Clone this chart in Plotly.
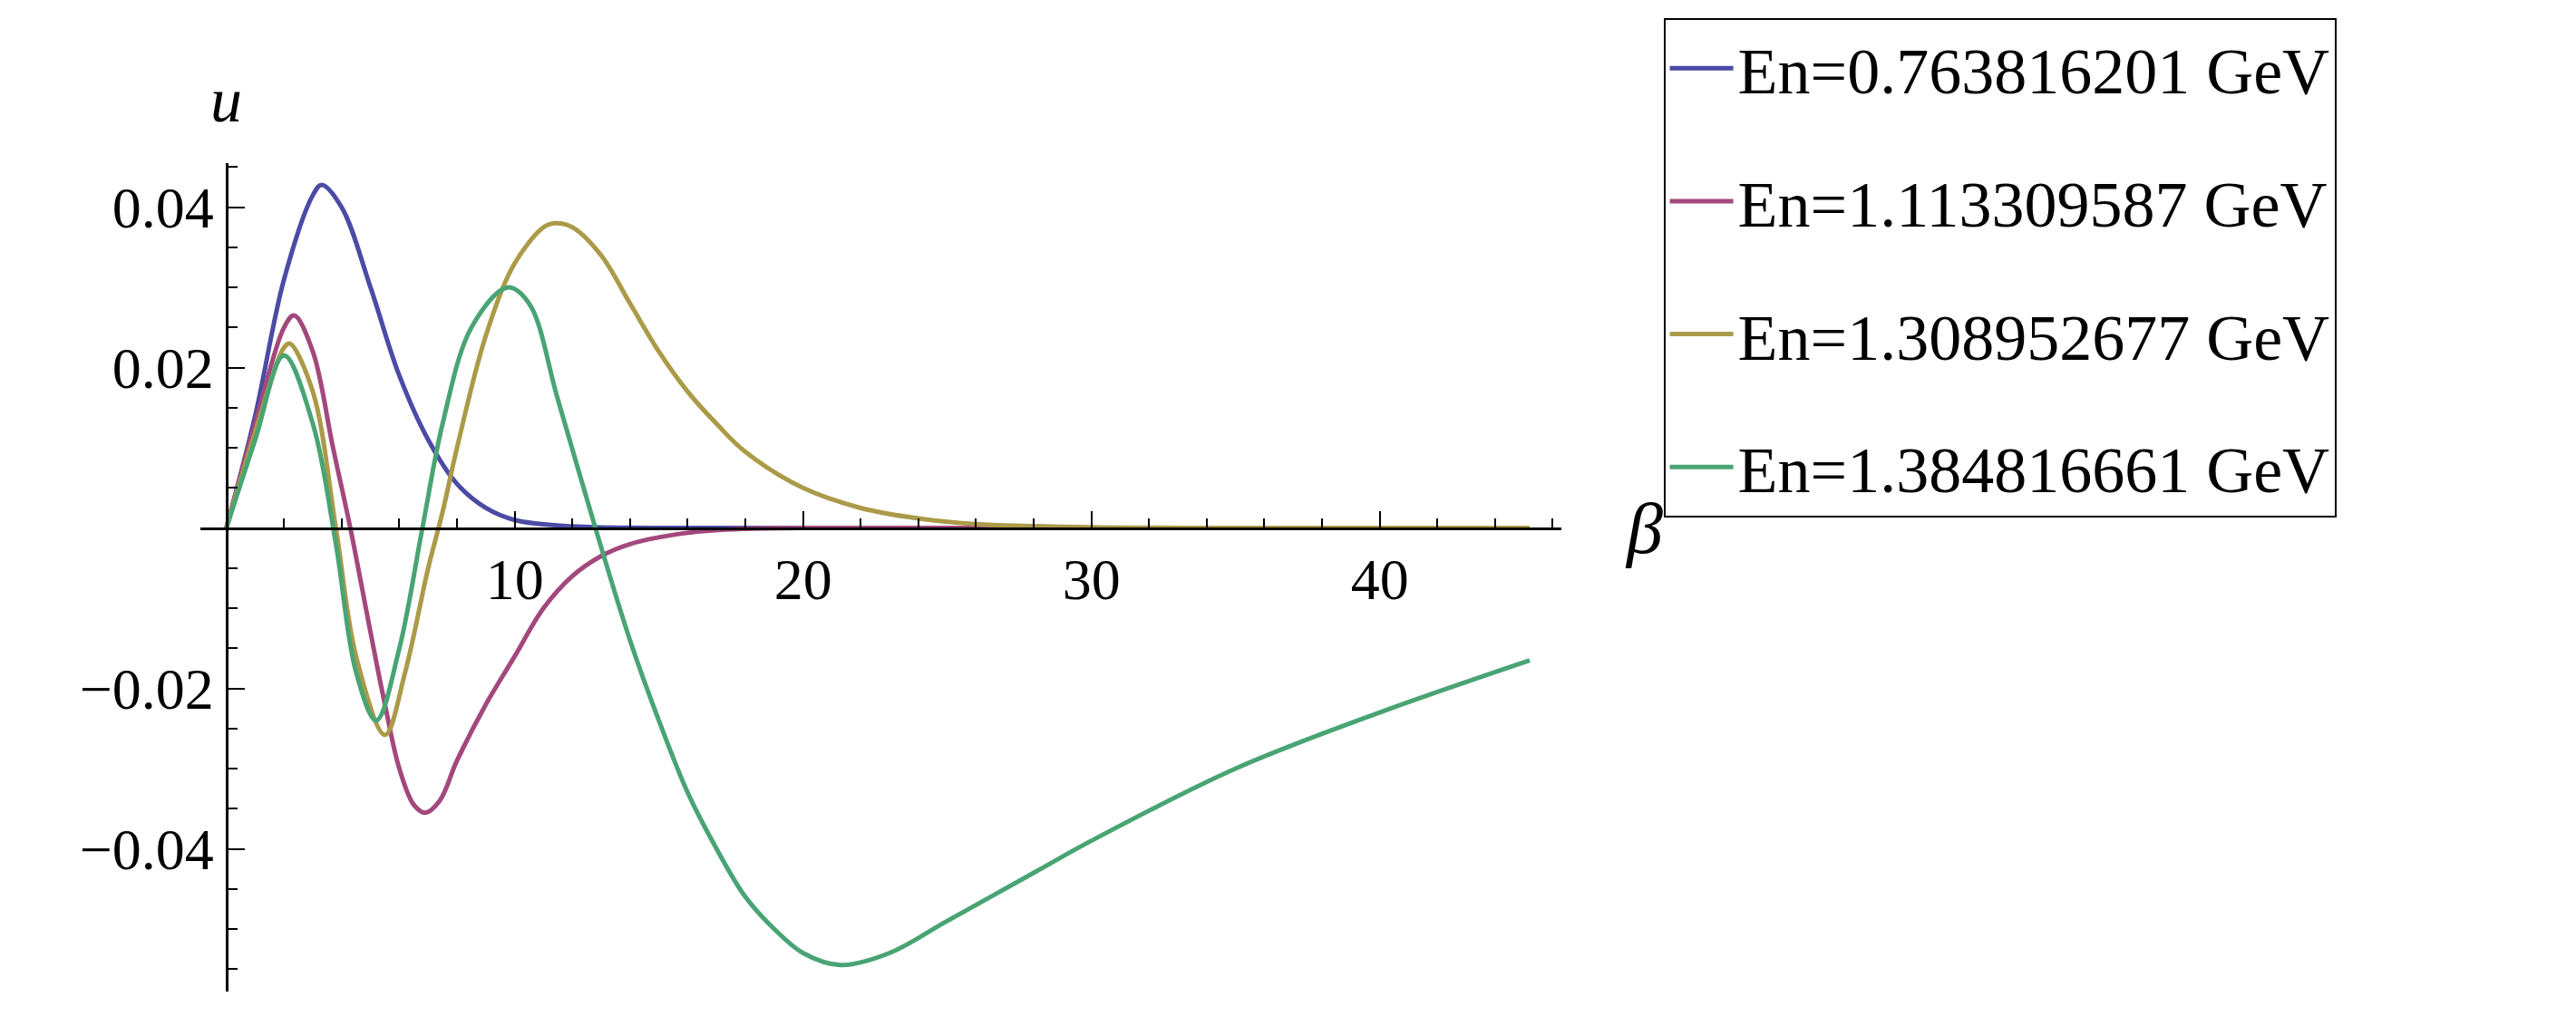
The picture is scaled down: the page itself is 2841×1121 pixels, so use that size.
import plotly.graph_objects as go

names = ["En=0.763816201 GeV", "En=1.113309587 GeV", "En=1.308952677 GeV", "En=1.384816661 GeV"]
colors = ["#4b4ba6", "#a3487c", "#ab9a48", "#49a474"]

x_blue = [0, 1, 2, 3, 3.3, 4, 5, 6, 7, 8, 9, 10, 12, 15, 45.2]
y_blue = [0, 0.014, 0.031, 0.0415, 0.0428, 0.040, 0.030, 0.019, 0.011, 0.0055, 0.0025, 0.001, 0.0002, 0, 0]

x_mag = [0, 1, 2, 2.35, 3, 3.7, 4.3, 5, 5.5, 6, 6.5, 6.9, 7.4, 8, 9, 10, 11, 12, 13, 14, 16, 18, 20, 45.2]
y_mag = [0, 0.013, 0.025, 0.0265, 0.022, 0.010, 0, -0.013, -0.022, -0.030, -0.0345, -0.0355, -0.034, -0.029, -0.022, -0.016, -0.010, -0.006, -0.0035, -0.002, -0.0006, -0.0001, 0, 0]

x_yel = [0, 1, 2, 2.2, 3, 3.8, 4.5, 5.5, 6.2, 7, 7.5, 8, 9, 10, 11, 11.4, 12, 13, 14, 15, 16, 17, 18, 20, 22, 24, 26, 30, 35, 45.2]
y_yel = [0, 0.012, 0.0225, 0.023, 0.017, 0, -0.016, -0.0258, -0.018, -0.005, 0.002, 0.010, 0.024, 0.033, 0.0375, 0.038, 0.0375, 0.034, 0.028, 0.022, 0.017, 0.013, 0.0095, 0.005, 0.0025, 0.0012, 0.0005, 0.0001, 0, 0]

x_grn = [0, 1, 2, 3, 3.8, 4.5, 5.2, 6, 6.8, 7.5, 8.5, 9.75, 10.5, 11.5, 12.8, 14, 15, 16, 17, 18, 19, 20, 21.3, 23, 25, 28, 30, 35, 40, 45.2]
y_grn = [0, 0.011, 0.0215, 0.013, -0.002, -0.018, -0.024, -0.015, 0, 0.013, 0.025, 0.030, 0.028, 0.016, 0, -0.014, -0.024, -0.033, -0.040, -0.046, -0.050, -0.053, -0.0545, -0.053, -0.049, -0.043, -0.039, -0.030, -0.023, -0.0165]

xs = [x_blue, x_mag, x_yel, x_grn]
ys = [y_blue, y_mag, y_yel, y_grn]

x_ticks = [10, 20, 30, 40]
y_ticks = [-0.04, -0.02, 0.02, 0.04]
y_ticktext = ["\u22120.04", "\u22120.02", "0.02", "0.04"]

xr = [-0.9, 46.3]
yr = [-0.0578, 0.0455]

fig = go.Figure()
for i in range(4):
    fig.add_trace(go.Scatter(x=xs[i], y=ys[i], mode="lines", name=names[i],
                             legendgroup=str(i),
                             line=dict(color=colors[i], width=5, shape="spline", smoothing=1.0)))

font = "Liberation Serif"
fig.update_layout(
    width=2841, height=1121, plot_bgcolor="white", paper_bgcolor="white",
    margin=dict(l=213, r=1127, t=164, b=35),
    font=dict(family=font, color="black", size=64),
    showlegend=True,
    legend=dict(x=1.075, y=1.175, xanchor="left", yanchor="top", bordercolor="black",
                borderwidth=2, font=dict(size=72, family=font), tracegroupgap=50,
                itemwidth=70),
    xaxis=dict(range=xr, anchor="free", position=(0 - yr[0]) / (yr[1] - yr[0]),
               showgrid=False, zeroline=False, showline=True, linecolor="black", linewidth=3,
               tickvals=x_ticks, ticks="inside", ticklen=18, tickwidth=2, tickcolor="black",
               minor=dict(dtick=2, ticks="inside", ticklen=10, tickcolor="black", tickwidth=2)),
    yaxis=dict(range=yr, anchor="free", position=(0 - xr[0]) / (xr[1] - xr[0]),
               showgrid=False, zeroline=False, showline=True, linecolor="black", linewidth=3,
               tickvals=y_ticks, ticktext=y_ticktext, ticks="inside", ticklen=18, tickwidth=2,
               tickcolor="black",
               minor=dict(dtick=0.005, ticks="inside", ticklen=10, tickcolor="black", tickwidth=2)),
    annotations=[
        dict(text="<i>u</i>", x=0, xref="x", y=1.12, yref="paper", showarrow=False,
             font=dict(size=70, family=font), xanchor="center"),
        dict(text="<i>\u03b2</i>", x=1.045, xref="paper", y=0, yref="y", showarrow=False,
             font=dict(size=80, family=font), xanchor="left"),
    ],
)
fig.write_html("out.html")
